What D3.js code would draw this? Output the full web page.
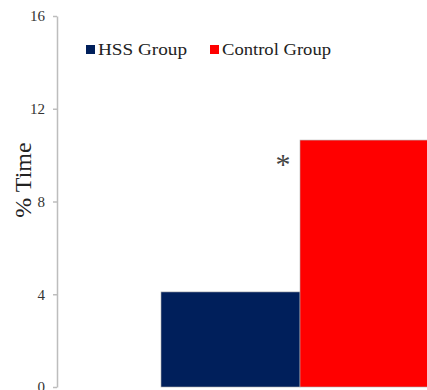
<!DOCTYPE html>
<html>
<head>
<meta charset="utf-8">
<script src="https://cdn.jsdelivr.net/npm/d3@7"></script>
<style>
  html, body { margin: 0; padding: 0; background: #fff; overflow: hidden; }
</style>
</head>
<body>
<div id="chart"></div>
<script>
// data
const groups = ['HSS Group', 'Control Group'];
const values = [4.1, 10.65];
const colors = ['#001f5b', '#ff0000'];
const yTicks = [0, 4, 8, 12, 16];

const SERIF = 'Liberation Serif';
const W = 427, H = 390;
const svg = d3.select('#chart').append('svg')
  .attr('width', W).attr('height', H)
  .attr('font-family', SERIF);

// scales (the plot runs off the right edge in the reference)
const y = d3.scaleLinear().domain([0, 16]).range([387, 16]);
const x = d3.scaleBand().domain(groups).range([161, 439]).padding(0);

// y axis
const yAxis = svg.append('g')
  .attr('transform', 'translate(57,0)')
  .call(d3.axisLeft(y).tickValues(yTicks).tickSize(4).tickSizeOuter(0).tickPadding(8))
  .attr('font-family', SERIF)
  .attr('font-size', 15);
yAxis.select('.domain').attr('stroke', '#bdbdbd').attr('stroke-width', 1.5);
yAxis.selectAll('.tick line').attr('stroke', '#bdbdbd').attr('stroke-width', 1.5);
yAxis.selectAll('.tick text').attr('fill', '#333');

// axis title
svg.append('text')
  .attr('transform', 'translate(31,180) rotate(-90)')
  .attr('text-anchor', 'middle')
  .attr('font-size', 24)
  .attr('fill', '#222')
  .text('% Time');

// bars
svg.selectAll('rect.bar')
  .data(groups)
  .enter().append('rect')
    .attr('class', 'bar')
    .attr('x', d => x(d))
    .attr('width', x.bandwidth())
    .attr('y', (d, i) => y(values[i]))
    .attr('height', (d, i) => y(0) - y(values[i]))
    .attr('fill', (d, i) => colors[i])
    .attr('stroke', '#b0b0b0')
    .attr('stroke-width', 0.6);

// significance marker
svg.append('text')
  .attr('x', x('Control Group') - 17)
  .attr('y', y(values[1]) + 34)
  .attr('text-anchor', 'middle')
  .attr('font-size', 30)
  .attr('fill', '#444')
  .text('*');

// legend
const legendX = [86, 210];
const legendW = [89, 109];
const legend = svg.selectAll('g.leg')
  .data(groups)
  .enter().append('g')
    .attr('class', 'leg')
    .attr('transform', (d, i) => `translate(${legendX[i]},50)`);
legend.append('rect')
  .attr('x', 0).attr('y', -5)
  .attr('width', 9).attr('height', 9)
  .attr('fill', (d, i) => colors[i]);
legend.append('text')
  .attr('x', 12).attr('y', 5)
  .attr('font-size', 16)
  .attr('fill', '#222')
  .attr('textLength', (d, i) => legendW[i])
  .attr('lengthAdjust', 'spacingAndGlyphs')
  .text(d => d);
</script>
</body>
</html>
